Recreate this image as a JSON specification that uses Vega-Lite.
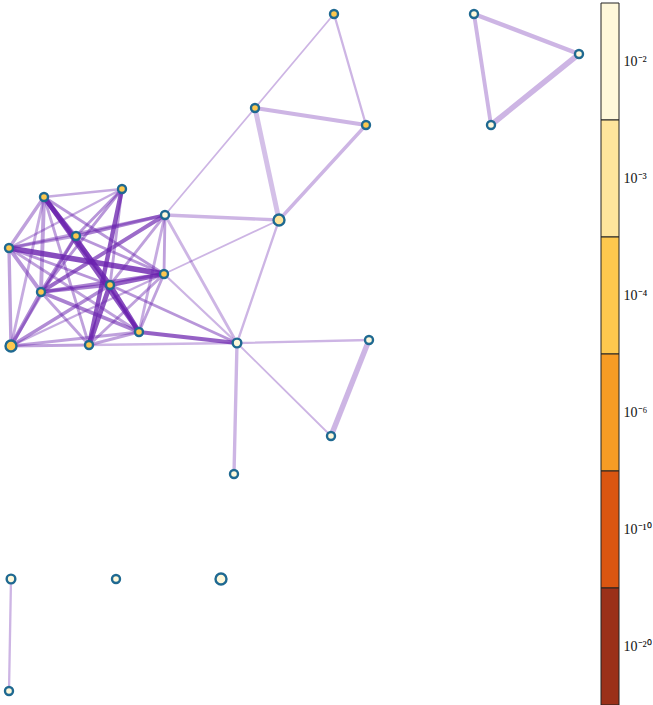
{
  "$schema": "https://vega.github.io/schema/vega-lite/v6.json",
  "padding": {"left": 0, "top": 2, "right": 0, "bottom": 0},
  "background": "white",
  "config": {"view": {"stroke": null}},
  "spacing": 0,
  "datasets": {
    "nodes": [
      {"id": "n1", "x": 333, "y": 13, "p": "10⁻⁴", "n": 5},
      {"id": "n2", "x": 473, "y": 13, "p": "10⁻²", "n": 5},
      {"id": "n3", "x": 578, "y": 53, "p": "10⁻²", "n": 5},
      {"id": "n4", "x": 490, "y": 124, "p": "10⁻²", "n": 5},
      {"id": "n5", "x": 254, "y": 107, "p": "10⁻⁴", "n": 5},
      {"id": "n6", "x": 365, "y": 124, "p": "10⁻⁴", "n": 5},
      {"id": "n7", "x": 278, "y": 219, "p": "10⁻³", "n": 10},
      {"id": "A", "x": 43, "y": 196, "p": "10⁻⁴", "n": 5},
      {"id": "B", "x": 121, "y": 188, "p": "10⁻⁴", "n": 5},
      {"id": "C", "x": 164, "y": 214, "p": "10⁻²", "n": 5},
      {"id": "D", "x": 8, "y": 247, "p": "10⁻⁴", "n": 5},
      {"id": "E", "x": 75, "y": 235, "p": "10⁻⁴", "n": 5},
      {"id": "F", "x": 163, "y": 273, "p": "10⁻⁴", "n": 5},
      {"id": "G", "x": 40, "y": 291, "p": "10⁻⁴", "n": 5},
      {"id": "H", "x": 109, "y": 284, "p": "10⁻⁴", "n": 5},
      {"id": "I", "x": 10, "y": 345, "p": "10⁻⁴", "n": 10},
      {"id": "J", "x": 88, "y": 344, "p": "10⁻⁴", "n": 5},
      {"id": "K", "x": 138, "y": 331, "p": "10⁻⁴", "n": 5},
      {"id": "L", "x": 236, "y": 342, "p": "10⁻²", "n": 6},
      {"id": "n20", "x": 368, "y": 339, "p": "10⁻²", "n": 5},
      {"id": "n21", "x": 330, "y": 435, "p": "10⁻²", "n": 5},
      {"id": "n22", "x": 233, "y": 473, "p": "10⁻²", "n": 5},
      {"id": "n23", "x": 10, "y": 578, "p": "10⁻²", "n": 6},
      {"id": "n24", "x": 115, "y": 578, "p": "10⁻²", "n": 5},
      {"id": "n25", "x": 220, "y": 578, "p": "10⁻²", "n": 10},
      {"id": "n26", "x": 8, "y": 690, "p": "10⁻²", "n": 5}
    ],
    "edges": [
      {"a": "n1", "b": "n5", "w": 1, "s": 0.35},
      {"a": "n1", "b": "n6", "w": 1.5, "s": 0.35},
      {"a": "n5", "b": "n6", "w": 3, "s": 0.35},
      {"a": "n5", "b": "n7", "w": 4, "s": 0.3},
      {"a": "n6", "b": "n7", "w": 2.5, "s": 0.35},
      {"a": "n5", "b": "C", "w": 1, "s": 0.35},
      {"a": "n2", "b": "n3", "w": 3.5, "s": 0.35},
      {"a": "n2", "b": "n4", "w": 3, "s": 0.35},
      {"a": "n3", "b": "n4", "w": 4.5, "s": 0.35},
      {"a": "n7", "b": "C", "w": 2.5, "s": 0.35},
      {"a": "n7", "b": "F", "w": 1, "s": 0.35},
      {"a": "n7", "b": "L", "w": 1.5, "s": 0.35},
      {"a": "L", "b": "n20", "w": 1.5, "s": 0.35},
      {"a": "L", "b": "n21", "w": 1, "s": 0.35},
      {"a": "n20", "b": "n21", "w": 4.5, "s": 0.35},
      {"a": "L", "b": "n22", "w": 2.5, "s": 0.35},
      {"a": "n23", "b": "n26", "w": 1.5, "s": 0.35},
      {"a": "L", "b": "C", "w": 2, "s": 0.35},
      {"a": "L", "b": "F", "w": 1.5, "s": 0.35},
      {"a": "L", "b": "K", "w": 3, "s": 0.75},
      {"a": "L", "b": "H", "w": 2, "s": 0.5},
      {"a": "L", "b": "J", "w": 1.5, "s": 0.35},
      {"a": "A", "b": "E", "w": 2, "s": 0.5},
      {"a": "A", "b": "H", "w": 4, "s": 0.85},
      {"a": "A", "b": "K", "w": 3.5, "s": 0.8},
      {"a": "A", "b": "G", "w": 3, "s": 0.45},
      {"a": "A", "b": "D", "w": 2.5, "s": 0.45},
      {"a": "A", "b": "F", "w": 2, "s": 0.5},
      {"a": "A", "b": "B", "w": 1.5, "s": 0.4},
      {"a": "A", "b": "J", "w": 2, "s": 0.45},
      {"a": "A", "b": "I", "w": 2, "s": 0.4},
      {"a": "B", "b": "J", "w": 3.5, "s": 0.8},
      {"a": "B", "b": "E", "w": 2, "s": 0.5},
      {"a": "B", "b": "G", "w": 2, "s": 0.5},
      {"a": "B", "b": "D", "w": 1.5, "s": 0.4},
      {"a": "B", "b": "H", "w": 2, "s": 0.45},
      {"a": "C", "b": "G", "w": 3, "s": 0.7},
      {"a": "C", "b": "E", "w": 2.5, "s": 0.6},
      {"a": "C", "b": "D", "w": 2, "s": 0.45},
      {"a": "C", "b": "F", "w": 2, "s": 0.45},
      {"a": "C", "b": "K", "w": 2, "s": 0.4},
      {"a": "C", "b": "H", "w": 2, "s": 0.45},
      {"a": "D", "b": "F", "w": 4.5, "s": 0.85},
      {"a": "D", "b": "G", "w": 3, "s": 0.5},
      {"a": "D", "b": "I", "w": 2.5, "s": 0.45},
      {"a": "D", "b": "H", "w": 2, "s": 0.5},
      {"a": "D", "b": "E", "w": 2, "s": 0.45},
      {"a": "D", "b": "K", "w": 2, "s": 0.45},
      {"a": "E", "b": "F", "w": 2, "s": 0.5},
      {"a": "E", "b": "G", "w": 2.5, "s": 0.55},
      {"a": "E", "b": "I", "w": 2, "s": 0.45},
      {"a": "E", "b": "K", "w": 2, "s": 0.5},
      {"a": "F", "b": "G", "w": 2.5, "s": 0.6},
      {"a": "F", "b": "H", "w": 3.5, "s": 0.75},
      {"a": "F", "b": "J", "w": 2, "s": 0.45},
      {"a": "F", "b": "K", "w": 2, "s": 0.45},
      {"a": "F", "b": "I", "w": 1.5, "s": 0.4},
      {"a": "G", "b": "H", "w": 2.5, "s": 0.6},
      {"a": "G", "b": "I", "w": 3, "s": 0.55},
      {"a": "G", "b": "J", "w": 2, "s": 0.45},
      {"a": "G", "b": "K", "w": 3, "s": 0.6},
      {"a": "H", "b": "J", "w": 4, "s": 0.8},
      {"a": "H", "b": "K", "w": 4, "s": 0.85},
      {"a": "H", "b": "I", "w": 2.5, "s": 0.55},
      {"a": "I", "b": "J", "w": 2, "s": 0.45},
      {"a": "I", "b": "K", "w": 2, "s": 0.45},
      {"a": "J", "b": "K", "w": 2, "s": 0.45}
    ],
    "bands": [
      {"band": "10⁻²"},
      {"band": "10⁻³"},
      {"band": "10⁻⁴"},
      {"band": "10⁻⁶"},
      {"band": "10⁻¹⁰"},
      {"band": "10⁻²⁰"}
    ]
  },
  "hconcat": [
    {
      "width": 599,
      "height": 703,
      "layer": [
        {
          "data": {"name": "edges"},
          "transform": [
            {"lookup": "a", "from": {"data": {"name": "nodes"}, "key": "id", "fields": ["x", "y"]}, "as": ["xa", "ya"]},
            {"lookup": "b", "from": {"data": {"name": "nodes"}, "key": "id", "fields": ["x", "y"]}, "as": ["xb", "yb"]}
          ],
          "mark": {"type": "rule", "color": "#6A22AE", "strokeCap": "round"},
          "encoding": {
            "x": {"field": "xa", "type": "quantitative", "scale": {"domain": [0, 599], "nice": false, "zero": false}, "axis": null},
            "y": {"field": "ya", "type": "quantitative", "scale": {"domain": [2, 705], "nice": false, "zero": false, "reverse": true}, "axis": null},
            "x2": {"field": "xb"},
            "y2": {"field": "yb"},
            "strokeWidth": {"field": "w", "type": "quantitative", "scale": {"domain": [1, 5], "range": [1.8, 6]}, "legend": null},
            "opacity": {"field": "s", "type": "quantitative", "scale": {"domain": [0, 1], "range": [0, 0.95]}, "legend": null}
          }
        },
        {
          "data": {"name": "nodes"},
          "mark": {"type": "circle", "stroke": "#1F6991", "strokeWidth": 2.4, "opacity": 1},
          "encoding": {
            "x": {"field": "x", "type": "quantitative"},
            "y": {"field": "y", "type": "quantitative"},
            "color": {"field": "p", "type": "nominal", "scale": {"domain": ["10⁻²", "10⁻³", "10⁻⁴", "10⁻⁶", "10⁻¹⁰", "10⁻²⁰"], "range": ["#FFF8DA", "#FEE59C", "#FDC84E", "#F79C24", "#DA5611", "#9B3019"]}, "legend": null},
            "size": {"field": "n", "type": "quantitative", "scale": {"domain": [5, 10], "range": [64, 120]}, "legend": null}
          }
        }
      ]
    },
    {
      "width": 18,
      "height": 702,
      "data": {"name": "bands"},
      "mark": {"type": "rect", "stroke": "#222222", "strokeWidth": 1},
      "encoding": {
        "y": {"field": "band", "type": "ordinal", "sort": null, "scale": {"paddingInner": 0, "paddingOuter": 0},
          "axis": {"orient": "right", "title": null, "ticks": false, "domain": false, "labelFont": "Liberation Serif", "labelFontSize": 14, "labelColor": "#111111", "labelPadding": 4}},
        "color": {"field": "band", "type": "nominal", "scale": {"domain": ["10⁻²", "10⁻³", "10⁻⁴", "10⁻⁶", "10⁻¹⁰", "10⁻²⁰"], "range": ["#FFF8DA", "#FEE59C", "#FDC84E", "#F79C24", "#DA5611", "#9B3019"]}, "legend": null}
      }
    }
  ]
}
